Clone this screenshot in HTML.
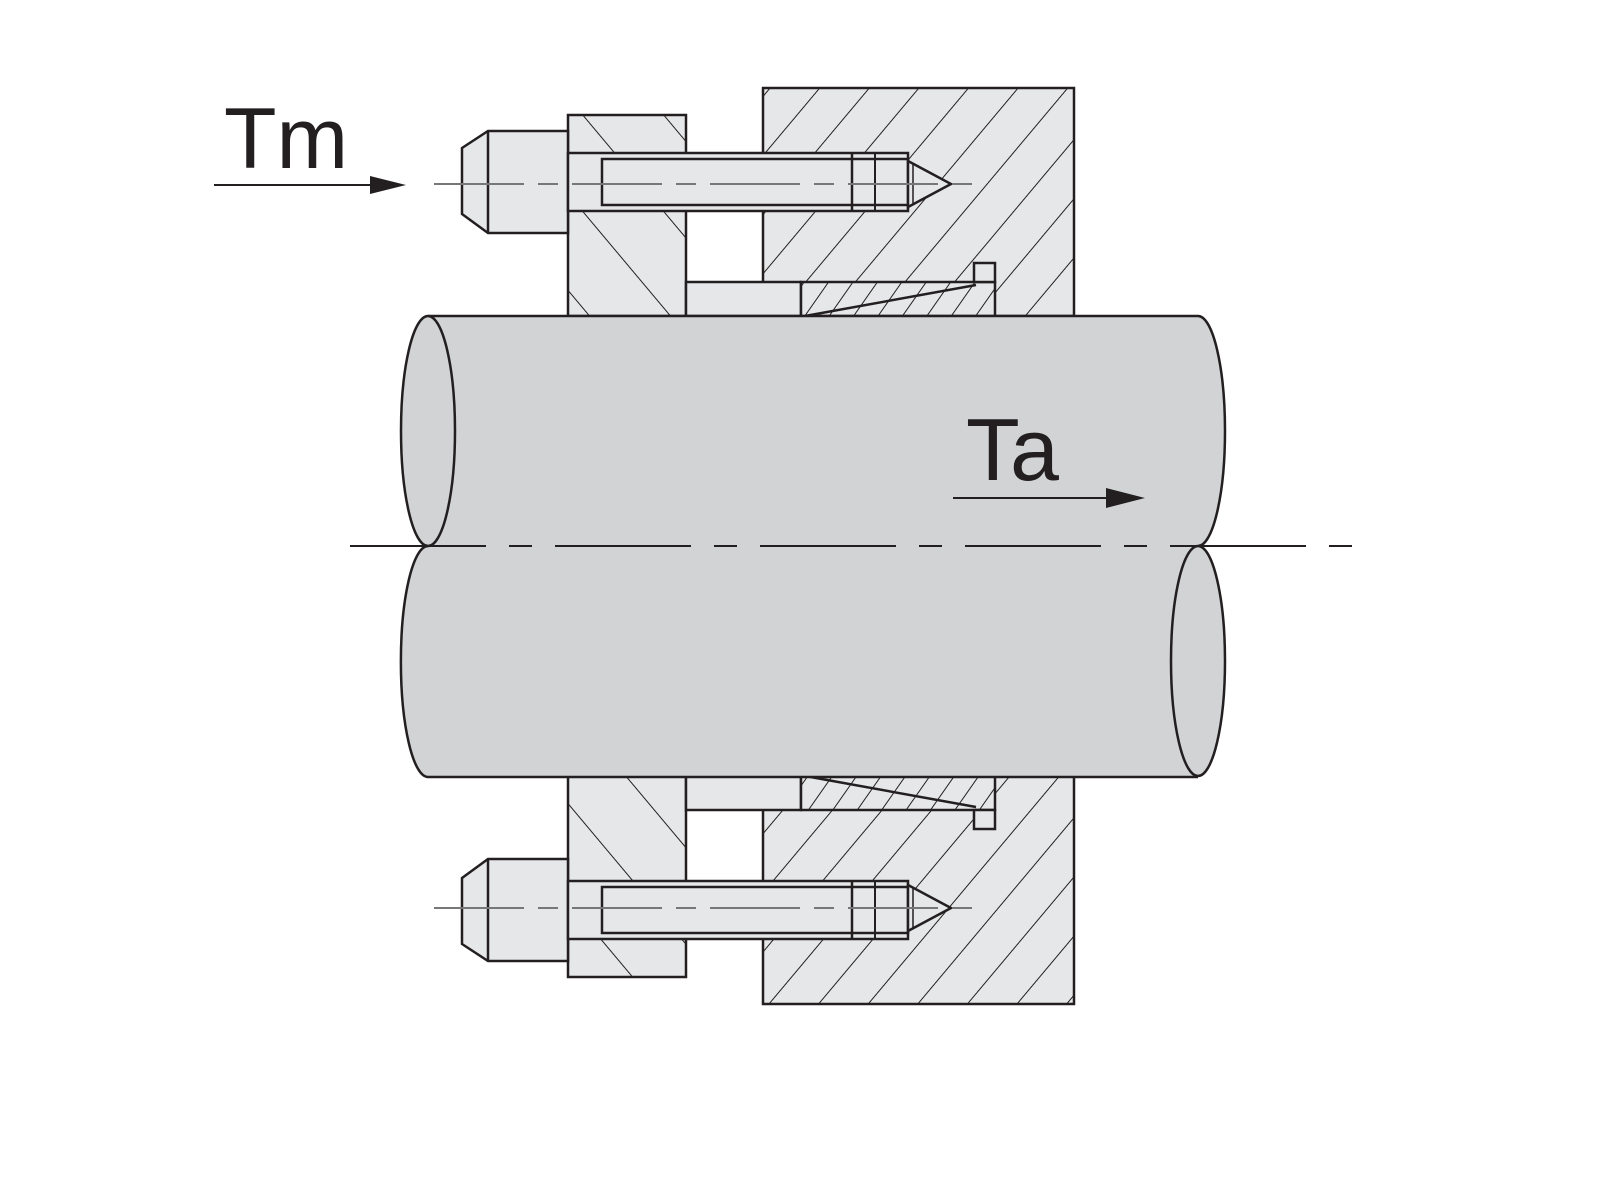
<!DOCTYPE html>
<html><head><meta charset="utf-8"><style>html,body{margin:0;padding:0;background:#fff}svg{display:block}</style></head>
<body>
<svg width="1600" height="1200" viewBox="0 0 1600 1200" xmlns="http://www.w3.org/2000/svg">
<defs>
<pattern id="hb" patternUnits="userSpaceOnUse" width="62" height="62" patternTransform="rotate(-40)"><rect width="62" height="62" fill="#e6e7e8"/><line x1="0" y1="0" x2="0" y2="62" stroke="#231f20" stroke-width="2"/></pattern>
<pattern id="hf" patternUnits="userSpaceOnUse" width="38" height="38" patternTransform="rotate(40)"><rect width="38" height="38" fill="#e6e7e8"/><line x1="0" y1="0" x2="0" y2="38" stroke="#231f20" stroke-width="2"/></pattern>
<pattern id="hw" patternUnits="userSpaceOnUse" width="20" height="20" patternTransform="rotate(35)"><rect width="20" height="20" fill="#e6e7e8"/><line x1="0" y1="0" x2="0" y2="20" stroke="#231f20" stroke-width="2"/></pattern>
<pattern id="hb2" patternUnits="userSpaceOnUse" width="62" height="62" patternTransform="rotate(40)"><rect width="62" height="62" fill="#e6e7e8"/><line x1="0" y1="0" x2="0" y2="62" stroke="#231f20" stroke-width="2"/></pattern>
<pattern id="hf2" patternUnits="userSpaceOnUse" width="38" height="38" patternTransform="rotate(-40)"><rect width="38" height="38" fill="#e6e7e8"/><line x1="0" y1="0" x2="0" y2="38" stroke="#231f20" stroke-width="2"/></pattern>
<pattern id="hw2" patternUnits="userSpaceOnUse" width="20" height="20" patternTransform="rotate(-35)"><rect width="20" height="20" fill="#e6e7e8"/><line x1="0" y1="0" x2="0" y2="20" stroke="#231f20" stroke-width="2"/></pattern>
</defs>
<!-- top assembly -->
<g>
  <rect x="763" y="88" width="311" height="228" fill="url(#hf)" stroke="#231f20" stroke-width="2.5"/>
  <rect x="568" y="115" width="118" height="201" fill="url(#hb)" stroke="#231f20" stroke-width="2.5"/>
  <rect x="686" y="282" width="115" height="34" fill="#e6e7e8" stroke="#231f20" stroke-width="2.5"/>
  <rect x="801" y="282" width="194" height="34" fill="url(#hw)" stroke="#231f20" stroke-width="2.5"/>
  <rect x="974" y="263" width="21" height="19" fill="#e6e7e8" stroke="#231f20" stroke-width="2.5"/>
  <line x1="805" y1="316" x2="976" y2="285" stroke="#231f20" stroke-width="2.5"/>
  <path d="M568 131 L488 131 L462 148 L462 214 L488 233 L568 233 Z" fill="#e6e7e8" stroke="#231f20" stroke-width="2.5"/>
  <line x1="488" y1="131" x2="488" y2="233" stroke="#231f20" stroke-width="2.5"/>
  <rect x="568" y="153" width="340" height="58" fill="#e6e7e8" stroke="#231f20" stroke-width="2.5"/>
  <rect x="602" y="159" width="306" height="46" fill="#e6e7e8" stroke="#231f20" stroke-width="2.5"/>
  <line x1="852" y1="153" x2="852" y2="211" stroke="#231f20" stroke-width="2.5"/>
  <line x1="875" y1="153" x2="875" y2="211" stroke="#231f20" stroke-width="2"/>
  <path d="M908 161 L951 184 L908 207 Z" fill="#e6e7e8" stroke="#231f20" stroke-width="2.5"/>
  <line x1="913" y1="164" x2="913" y2="204" stroke="#231f20" stroke-width="1.5"/>
  <line x1="434" y1="184" x2="985" y2="184" stroke="#777" stroke-width="2" stroke-dasharray="90,14,20,14"/>
</g>
<!-- bottom assembly (mirrored) -->
<g transform="translate(0,1092) scale(1,-1)">
  <rect x="763" y="88" width="311" height="228" fill="url(#hf2)" stroke="#231f20" stroke-width="2.5"/>
  <rect x="568" y="115" width="118" height="201" fill="url(#hb2)" stroke="#231f20" stroke-width="2.5"/>
  <rect x="686" y="282" width="115" height="34" fill="#e6e7e8" stroke="#231f20" stroke-width="2.5"/>
  <rect x="801" y="282" width="194" height="34" fill="url(#hw2)" stroke="#231f20" stroke-width="2.5"/>
  <rect x="974" y="263" width="21" height="19" fill="#e6e7e8" stroke="#231f20" stroke-width="2.5"/>
  <line x1="805" y1="316" x2="976" y2="285" stroke="#231f20" stroke-width="2.5"/>
  <path d="M568 131 L488 131 L462 148 L462 214 L488 233 L568 233 Z" fill="#e6e7e8" stroke="#231f20" stroke-width="2.5"/>
  <line x1="488" y1="131" x2="488" y2="233" stroke="#231f20" stroke-width="2.5"/>
  <rect x="568" y="153" width="340" height="58" fill="#e6e7e8" stroke="#231f20" stroke-width="2.5"/>
  <rect x="602" y="159" width="306" height="46" fill="#e6e7e8" stroke="#231f20" stroke-width="2.5"/>
  <line x1="852" y1="153" x2="852" y2="211" stroke="#231f20" stroke-width="2.5"/>
  <line x1="875" y1="153" x2="875" y2="211" stroke="#231f20" stroke-width="2"/>
  <path d="M908 161 L951 184 L908 207 Z" fill="#e6e7e8" stroke="#231f20" stroke-width="2.5"/>
  <line x1="913" y1="164" x2="913" y2="204" stroke="#231f20" stroke-width="1.5"/>
  <line x1="434" y1="184" x2="985" y2="184" stroke="#777" stroke-width="2" stroke-dasharray="90,14,20,14"/>
</g>
<!-- shaft fill -->
<path d="M428 316 L1198 316 A27 115 0 0 1 1198 546 L1198 777 L428 777 A27 115 0 0 1 428 546 A27 115 0 0 1 428 316 Z" fill="#d1d3d4"/>
<!-- shaft outlines -->
<path d="M428 316 L1198 316 A27 115 0 0 1 1198 546" fill="none" stroke="#231f20" stroke-width="2.5"/>
<ellipse cx="428" cy="431" rx="27" ry="115" fill="#d1d3d4" stroke="#231f20" stroke-width="2.5"/>
<path d="M428 546 A27 115 0 0 0 428 777 L1198 777" fill="none" stroke="#231f20" stroke-width="2.5"/>
<ellipse cx="1198" cy="661" rx="27" ry="115" fill="#d1d3d4" stroke="#231f20" stroke-width="2.5"/>
<line x1="350" y1="546" x2="1360" y2="546" stroke="#231f20" stroke-width="2" stroke-dasharray="136,23,23,23"/>
<!-- labels -->
<text x="224" y="168" font-family="Liberation Sans, sans-serif" font-size="86" fill="#231f20">Tm</text>
<line x1="214" y1="185" x2="375" y2="185" stroke="#231f20" stroke-width="2"/>
<path d="M370 176 L406 185 L370 194 Z" fill="#231f20"/>
<text x="966" y="480" font-family="Liberation Sans, sans-serif" font-size="88" fill="#231f20">Ta</text>
<line x1="953" y1="498" x2="1110" y2="498" stroke="#231f20" stroke-width="2"/>
<path d="M1106 488 L1145 498 L1106 508 Z" fill="#231f20"/>
</svg>
</body></html>
